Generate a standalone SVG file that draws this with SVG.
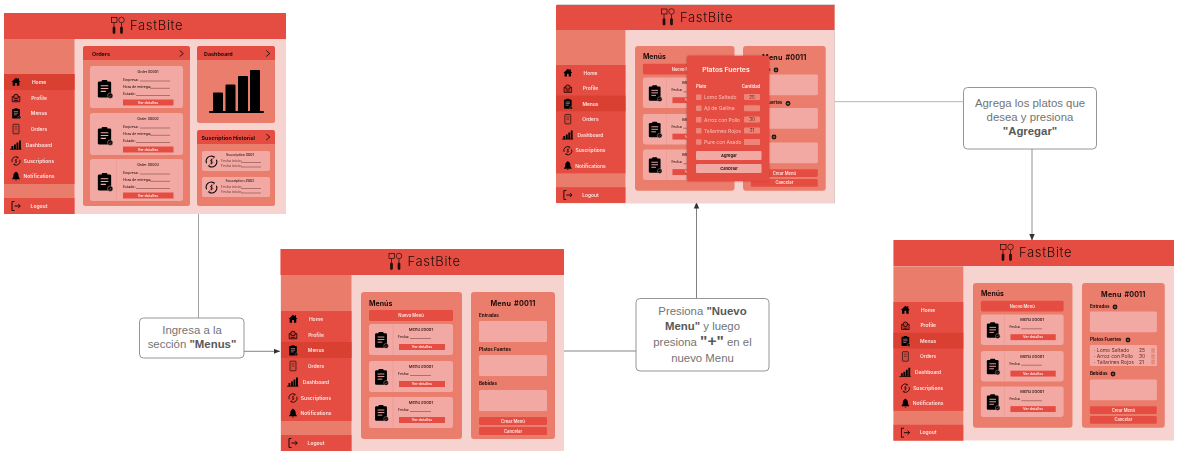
<svg xmlns="http://www.w3.org/2000/svg" width="1178" height="455" viewBox="0 0 1178 455">
<style>
text{font-family:Inter,"Liberation Sans",sans-serif}
.hdr{fill:#E64E43}.side{fill:#EA7C6C}.bg{fill:#F7D3CF}.panel{fill:#EB7D6D}.card{fill:#F2A9A3}.btn{fill:#E64E43}.act{fill:#DA3F31}
.nav{font-size:5px;font-weight:600;fill:#FBE3DF;text-anchor:middle}
.h1{font-size:7px;font-weight:700;fill:#1c0c0a}
.h2{font-size:7.200px;font-weight:700;fill:#1c0c0a;text-anchor:middle;letter-spacing:.2px;word-spacing:1px}
.h3{font-size:5.400px;font-weight:700;fill:#1c0c0a}
.lb{font-size:3.500px;font-weight:500;fill:#2a1210}
.tt{font-size:4.100px}
.ct{text-anchor:middle}
.bt{font-size:3.600px;font-weight:600;fill:#FBE3DF;text-anchor:middle}
.bl{font-size:4.200px}
.ul{stroke:#6b3530;stroke-width:.5;fill:none}
.brand{font-size:13px;font-weight:300;fill:#1a0d0c;letter-spacing:1.400px}
.pw{fill:#FBE3DF;font-weight:700}
.pr{font-size:5px;fill:#F7C0B9}
.pq{font-size:4.600px;fill:#5a1f19;text-anchor:middle}
.pb{font-size:4px;font-weight:700;fill:#2a1210;text-anchor:middle}
.li{font-size:5px;fill:#6b2a23}
.note{fill:#fff;stroke:#8a8a8a;stroke-width:.9}
.nt{font-family:"Liberation Sans",Arial,sans-serif;font-size:11.400px;fill:#737373;text-anchor:middle}
.nt tspan.b{font-weight:700;fill:#585858}
.cn{fill:none;stroke:#a3a3a3;stroke-width:1}
.cd{fill:none;stroke:#666;stroke-width:.8}
</style>
<defs>
<filter id="soft" x="-2%" y="-2%" width="104%" height="104%"><feGaussianBlur stdDeviation="0.3"/></filter>
<marker id="arrow" markerUnits="userSpaceOnUse" markerWidth="7" markerHeight="6" refX="6.500" refY="2.700" orient="auto"><path d="M0 0L6.500 2.700L0 5.400Z" fill="#333"/></marker>
<g id="clip"><rect x="-7" y="-8" width="14" height="17" rx="1.500" fill="#000"/><rect x="-3" y="-9.500" width="6" height="3" rx="1" fill="#000"/><path d="M-4 -3.500H4M-4 -.5H4M-4 2.500H1.500" stroke="#F2A9A3" stroke-width="1.100"/><circle cx="6" cy="7" r="2.800" fill="#000" stroke="#F2A9A3" stroke-width=".5"/><path d="M4.800 7l1 1 1.400-1.800" stroke="#F2A9A3" stroke-width=".5" fill="none"/></g>
<path id="i-home" d="M-4.500 0L0-4.200L1.800-2.600V-3.800H3V-1.500L4.500 0H3.300V3.800H.9V.9H-.9V3.800H-3.300V0Z" fill="#000"/>
<g id="i-profile"><path d="M-3.800-1.500H3.800V3.800H-3.800Z" fill="#C9392C" stroke="#000" stroke-width=".7"/><circle cx="0" cy="-1.500" r="2.300" fill="#C9392C" stroke="#000" stroke-width=".8"/><path d="M-2 2.500h4" stroke="#000" stroke-width=".7"/></g>
<g id="i-orders"><rect x="-3" y="-4.800" width="6" height="9.600" rx=".6" fill="#D8493C" stroke="#111" stroke-width=".7"/><path d="M-1.300-2.200h2.600M-1.300 0h2.600" stroke="#111" stroke-width=".5"/></g>
<g id="i-bars"><path d="M-4.500 1h1.800V4H-4.500ZM-2 -.5h1.900V4H-2ZM.5-2.500h1.900V4H.5ZM3-4.500h1.900V4H3Z" fill="#000"/><path d="M-6 4.300H5.500" stroke="#000" stroke-width=".8"/></g>
<g id="i-sync" fill="none" stroke="#000" stroke-width=".8"><path d="M-3.800 1.300A4 4 0 0 1 1.700-3.800"/><path d="M3.800-1.300A4 4 0 0 1-1.700 3.800"/><path d="M.6-3.800L2.400-3.600L1.300-2.300M-.6 3.800L-2.400 3.600L-1.300 2.300" stroke-width=".6"/><path d="M1-1.100C.4-1.700-1-1.400-.8-.5C-.7.3 1.100-.3 1 .8C.8 1.600-.5 1.700-1.100 1M0-2.200V2.200" stroke-width=".5"/></g>
<path id="i-bell" d="M0-4.800C-.7-4.800-.9-4.400-.9-4C-2.400-3.500-2.600-1.800-2.600-.5C-2.600 .9-3.500 1.600-3.900 2.200V2.800H3.900V2.200C3.500 1.600 2.600 .9 2.600-.5C2.600-1.800 2.400-3.500 .9-4C.9-4.400 .7-4.800 0-4.800ZM-1.100 3.300A1.200 1.200 0 0 0 1.100 3.300Z" fill="#000"/>
<g id="i-logout" fill="none" stroke="#000" stroke-width=".9"><path d="M-1.500-4.500H-4V4.500H-1.500"/><path d="M-1.500 0H4"/><path d="M2.200-2L4.300 0L2.200 2"/></g>
<g id="sb-base"><rect y="-36" width="70.500" height="176" class="side"/><rect width="70.500" height="110" class="hdr"/><rect y="124" width="70.500" height="16" class="hdr"/></g>
<g id="sb-items">
<use href="#i-home" x="12" y="8"/><text x="35" y="9.700" class="nav">Home</text>
<use href="#i-profile" x="12" y="24"/><text x="35" y="25.700" class="nav">Profile</text>
<use href="#clip" transform="translate(12 39.500) scale(.55)"/><text x="35" y="41.200" class="nav">Menus</text>
<use href="#i-orders" x="12" y="55"/><text x="35" y="56.700" class="nav">Orders</text>
<use href="#i-bars" x="12" y="71"/><text x="35" y="72.700" class="nav">Dashboard</text>
<use href="#i-sync" x="12" y="87"/><text x="35" y="88.700" class="nav">Suscriptions</text>
<use href="#i-bell" x="12" y="102.500"/><text x="35" y="104.200" class="nav">Notifications</text>
<use href="#i-logout" x="12" y="132"/><text x="35" y="133.700" class="nav">Logout</text>
</g>
<g id="logo-brand"><g fill="none" stroke="#000" stroke-width=".6"><rect x="-33.500" y="-8.500" width="5.500" height="5"/><path d="M-31-3.500V1"/><rect x="-32" y="1" width="2" height="6.500" rx=".8" fill="#2a0d0a"/><circle cx="-23.500" cy="-6" r="2.800"/><path d="M-23.500-3.200V1"/><rect x="-24.500" y="1" width="2" height="6.500" rx=".8" fill="#2a0d0a"/></g><text x="-15" y="4.300" class="brand" textLength="54" lengthAdjust="spacing">FastBite</text></g>
<g id="menu-card"><rect width="84" height="31" rx="2.500" class="card"/><path d="M24 0V31" stroke="#E98F84" stroke-width=".4"/><use href="#clip" transform="translate(12 16) scale(.85)"/><text x="52" y="7" class="lb ct tt">Menu #0001</text><text x="29" y="14" class="lb">Fecha:</text><path d="M41 14.500H62" class="ul"/><rect x="30" y="20" width="46" height="6" class="btn"/><text x="53" y="24.200" class="bt">Ver detalles</text></g>
<g id="menus-panel"><rect width="101" height="147" rx="3" class="panel"/><text x="8" y="13.500" class="h1">Menús</text><rect x="8" y="18" width="84" height="11" rx="1.500" class="btn"/><text x="50" y="25" class="bt bl">Nuevo Menú</text><use href="#menu-card" x="8" y="32"/><use href="#menu-card" x="8" y="69"/><use href="#menu-card" x="8" y="105"/></g>
<g id="menu-right"><rect width="84" height="147" rx="3" class="panel"/><text x="42" y="14" class="h2">Menu #0011</text><text x="8" y="25" class="h3" style="font-size:4.600px">Entradas</text><text x="8" y="59" class="h3" style="font-size:4.600px">Platos Fuertes</text><text x="8" y="93" class="h3" style="font-size:4.600px">Bebidas</text><rect x="8" y="29" width="68" height="21" rx="1.500" class="card"/><rect x="8" y="63" width="68" height="21" rx="1.500" class="card"/><rect x="8" y="98" width="68" height="21" rx="1.500" class="card"/><rect x="8" y="125" width="68" height="8" rx="1.500" class="btn"/><text x="42" y="130.500" class="bt bl">Crear Menú</text><rect x="8" y="135" width="68" height="8" rx="1.500" class="btn"/><text x="42" y="140.500" class="bt bl">Cancelar</text></g>
<g id="plus"><circle r="2.400" fill="#111"/><path d="M-1.300 0H1.300M0-1.300V1.300" stroke="#EB7D6D" stroke-width=".6"/></g>
<g id="order-card"><rect width="93" height="42" rx="2.500" class="card"/><use href="#clip" transform="translate(14.500 23) scale(.95)"/><text x="33" y="14.500" class="lb">Empresa:</text><path d="M50 15H80" class="ul"/><text x="33" y="22" class="lb">Hora de entrega:</text><path d="M60 22.300H80" class="ul"/><text x="33" y="29" class="lb">Estado:</text><path d="M46 29.500H80" class="ul"/><rect x="33" y="33.500" width="50.500" height="6" class="btn"/><text x="58" y="37.700" class="bt">Ver detalles</text></g>
<g id="sus-card"><rect width="68" height="20" rx="2" class="card"/><use href="#i-sync" transform="translate(9.500 10.500) scale(1.300)"/><text x="19" y="10.500" class="lb" style="fill:#7a4a45">Fecha inicio:</text><path d="M39 11.500H59" class="ul"/><text x="19" y="15.800" class="lb" style="fill:#7a4a45">Fecha inicio:</text><path d="M39 16H59" class="ul"/></g>
<path id="chev" d="M-1.800-3L1.800 0L-1.800 3" fill="none" stroke="#1c0c0a" stroke-width=".9"/>
<path id="trash" d="M-1.300-1.500H1.300V2H-1.300ZM-1.800-2H1.800" fill="#EB8F84" stroke="#D9766A" stroke-width=".4"/>
</defs>

<g id="connectors">
<path d="M198.500 213V318" class="cn"/>
<path d="M244 351.300H280" class="cd" marker-end="url(#arrow)"/>
<path d="M564 351H636" class="cd"/>
<path d="M696.500 298.500V202" class="cn" style="stroke:#808080" marker-end="url(#arrow)"/>
<path d="M835 101.700H963.500" class="cn" style="stroke:#b5b5b5"/>
<path d="M1032 149V240.500" class="cn" style="stroke:#929292" marker-end="url(#arrow)"/>
</g>

<g id="screen-dashboard" filter="url(#soft)">
<rect x="4" y="13" width="282" height="201" class="bg"/>
<g transform="translate(4 74)"><use href="#sb-base"/><rect width="70.500" height="16" class="act"/><use href="#sb-items"/></g>
<rect x="4" y="13" width="282" height="26" class="hdr"/>
<use href="#logo-brand" x="145" y="26"/>
<rect x="83" y="46" width="107" height="160" rx="2.500" class="panel"/>
<path d="M83 60V48.500a2.500 2.500 0 0 1 2.500-2.500H187.500a2.500 2.500 0 0 1 2.500 2.500V60Z" class="hdr"/>
<text x="92" y="56" class="h3">Orders</text><use href="#chev" x="181.500" y="53.500"/>
<g transform="translate(90 66)"><use href="#order-card"/><text x="58" y="7" class="lb ct">Order #0001</text></g>
<g transform="translate(90 113)"><use href="#order-card"/><text x="58" y="7" class="lb ct">Order #0002</text></g>
<g transform="translate(90 159)"><use href="#order-card"/><path d="M26.500 0V42" stroke="#E98F84" stroke-width=".4"/><text x="58" y="7" class="lb ct">Order #0003</text></g>
<rect x="197" y="46" width="78" height="77" rx="2.500" class="panel"/>
<path d="M197 60V48.500a2.500 2.500 0 0 1 2.500-2.500H272.500a2.500 2.500 0 0 1 2.500 2.500V60Z" class="hdr"/>
<text x="204" y="56" class="h3">Dashboard</text><use href="#chev" x="268" y="53.500"/>
<path d="M213 93.500a1 1 0 0 1 1-1h8a1 1 0 0 1 1 1V112H213ZM225.500 85.500a1 1 0 0 1 1-1h8a1 1 0 0 1 1 1V112H225.500ZM238 77a1 1 0 0 1 1-1h8a1 1 0 0 1 1 1V112H238ZM250 71a1 1 0 0 1 1-1h8a1 1 0 0 1 1 1V112H250Z" fill="#000"/>
<rect x="209" y="111" width="55" height="2" rx="1" fill="#000"/>
<rect x="197" y="130" width="78" height="76" rx="2.500" class="panel"/>
<path d="M197 144V132.500a2.500 2.500 0 0 1 2.500-2.500H272.500a2.500 2.500 0 0 1 2.500 2.500V144Z" class="hdr"/>
<text x="201.500" y="140" class="h3">Suscription Historial</text><use href="#chev" x="268" y="137"/>
<g transform="translate(202 151)"><use href="#sus-card"/><text x="38" y="5" class="lb ct">Suscription #001</text></g>
<g transform="translate(202 177)"><use href="#sus-card"/><text x="38" y="5" class="lb ct">Suscription #002</text></g>
</g>

<g id="screen-menus" filter="url(#soft)">
<rect x="280.500" y="249" width="283.500" height="202" class="bg"/>
<g transform="translate(281 311)"><use href="#sb-base"/><rect y="31" width="70.500" height="16" class="act"/><use href="#sb-items"/></g>
<rect x="280.500" y="249" width="283.500" height="26" class="hdr"/>
<use href="#logo-brand" x="422.500" y="262"/>
<use href="#menus-panel" x="361" y="292"/>
<use href="#menu-right" x="471" y="292"/>
</g>

<g id="screen-popup" filter="url(#soft)">
<rect x="557" y="4.300" width="278" height="199" fill="#c9c4c3"/>
<rect x="556" y="5" width="278.500" height="198" class="bg"/>
<g transform="translate(556 65) scale(.985)"><use href="#sb-base"/><rect y="31" width="70.500" height="16" class="act"/><use href="#sb-items"/></g>
<rect x="556" y="5" width="278.500" height="25" class="hdr"/>
<use href="#logo-brand" x="695" y="17.500"/>
<use href="#menus-panel" transform="translate(635 46) scale(.985)"/>
<use href="#menu-right" transform="translate(743 46) scale(.985)"/>
<use href="#plus" x="776" y="70"/><use href="#plus" x="788" y="103.500"/><use href="#plus" x="774" y="137"/>
<rect x="687" y="56" width="82" height="125" rx="2" class="hdr" style="filter:drop-shadow(0 .5px 1px #b5382c)"/>
<text x="726" y="72" class="pw ct" style="font-size:6.800px">Platos Fuertes</text>
<text x="696" y="88" class="pw" style="font-size:4.200px">Plato</text>
<text x="751" y="88" class="pw ct" style="font-size:4.200px">Cantidad</text>
<g fill="#EE8478">
<rect x="696" y="94.500" width="5.500" height="5.500" rx=".7"/><rect x="696" y="105.500" width="5.500" height="5.500" rx=".7"/><rect x="696" y="117" width="5.500" height="5.500" rx=".7"/><rect x="696" y="128" width="5.500" height="5.500" rx=".7"/><rect x="696" y="139.200" width="5.500" height="5.500" rx=".7"/>
<rect x="744" y="94" width="16" height="6" rx="1"/><rect x="744" y="105.300" width="16" height="6" rx="1"/><rect x="744" y="116.500" width="16" height="6" rx="1"/><rect x="744" y="127.500" width="16" height="6" rx="1"/><rect x="744" y="139" width="16" height="6" rx="1"/>
</g>
<text x="704" y="99" class="pr">Lomo Saltado</text><text x="704" y="110" class="pr">Ají de Gallina</text><text x="704" y="121.500" class="pr">Arroz con Pollo</text><text x="704" y="132.500" class="pr">Tallarines Rojos</text><text x="704" y="144" class="pr">Pure con Asado</text>
<text x="752" y="98.700" class="pq">25</text><text x="752" y="121.200" class="pq">30</text><text x="752" y="132.200" class="pq">21</text>
<rect x="696" y="151" width="65.500" height="9" rx="1" class="card"/><text x="729" y="157.300" class="pb">Agregar</text>
<rect x="696" y="164" width="65.500" height="9" rx="1" class="card"/><text x="729" y="170.300" class="pb">Cancelar</text>
</g>

<g id="screen-result" filter="url(#soft)">
<rect x="893.500" y="240" width="280.500" height="200.500" class="bg"/>
<g transform="translate(893.500 302) scale(.99)"><use href="#sb-base"/><rect y="31" width="70.500" height="16" class="act"/><use href="#sb-items"/></g>
<rect x="893.500" y="240" width="280.500" height="26" class="hdr"/>
<use href="#logo-brand" x="1034" y="253"/>
<use href="#menus-panel" transform="translate(973 283) scale(.985)"/>
<use href="#menu-right" transform="translate(1082 283) scale(.985)"/>
<use href="#plus" x="1115" y="307"/><use href="#plus" x="1128" y="340"/><use href="#plus" x="1113" y="374"/>
<rect x="1090" y="346" width="67" height="20" rx="1.500" class="card"/>
<text x="1094" y="352" class="li">· Lomo Saltado</text><text x="1094" y="358" class="li">· Arroz con Pollo</text><text x="1094" y="363.500" class="li">· Tallarines Rojos</text>
<text x="1139" y="352" class="li">25</text><text x="1139" y="358" class="li">30</text><text x="1139" y="363.500" class="li">21</text>
<use href="#trash" x="1153" y="350.500"/><use href="#trash" x="1153" y="356.500"/><use href="#trash" x="1153" y="362"/>
</g>

<g id="note-menus">
<rect x="139.500" y="318" width="104.500" height="40" rx="4" class="note"/>
<text class="nt" x="192" y="334">Ingresa a la</text>
<text class="nt" x="192" y="347.500">sección <tspan class="b">"Menus"</tspan></text>
</g>
<g id="note-nuevo">
<rect x="636" y="298.500" width="133" height="72.500" rx="4" class="note"/>
<text class="nt" x="702.500" y="315"><tspan>Presiona </tspan><tspan class="b">"Nuevo</tspan></text>
<text class="nt" x="702.500" y="329.500"><tspan class="b">Menu"</tspan> y luego</text>
<text class="nt" x="702.500" y="346">presiona <tspan class="b" style="font-size:15.500px">"+"</tspan> en el</text>
<text class="nt" x="702.500" y="361.500">nuevo Menu</text>
</g>
<g id="note-agregar">
<rect x="963.500" y="87.500" width="133" height="61.500" rx="4" class="note"/>
<text class="nt" x="1030" y="107">Agrega los platos que</text>
<text class="nt" x="1030" y="121">desea y presiona</text>
<text class="nt" x="1030" y="134.500"><tspan class="b">"Agregar"</tspan></text>
</g>
</svg>
